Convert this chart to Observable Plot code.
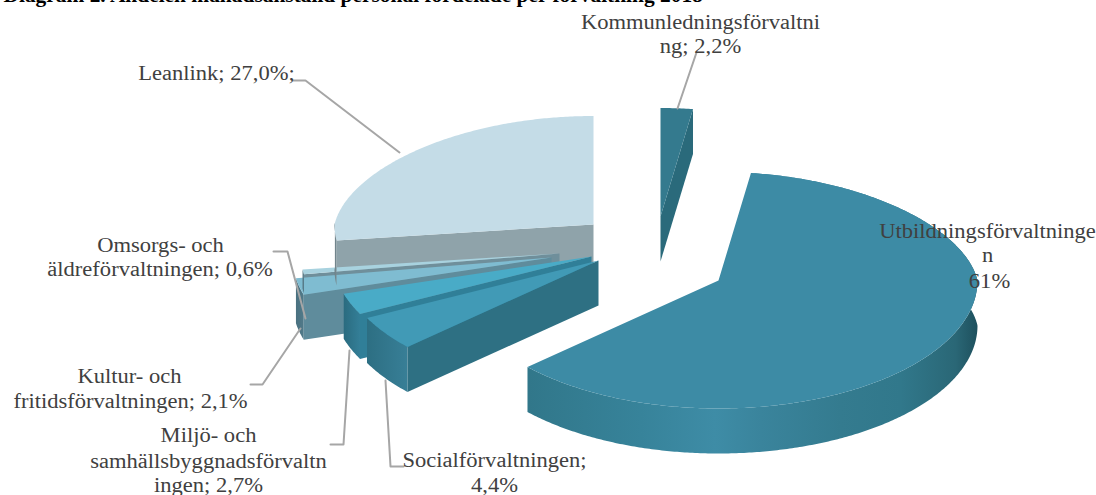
<!DOCTYPE html>
<html><head><meta charset="utf-8">
<script src="https://cdn.jsdelivr.net/npm/d3@7"></script>
<script src="https://cdn.jsdelivr.net/npm/@observablehq/plot@0.6"></script>
<style>html,body{margin:0;padding:0;background:#fff}svg{display:block}</style>
</head><body><div id="chart"></div>
<script>
// Data
const departments = ["Kommunledningsförvaltningen","Utbildningsförvaltningen","Socialförvaltningen","Miljö- och samhällsbyggnadsförvaltningen","Kultur- och fritidsförvaltningen","Omsorgs- och äldreförvaltningen","Leanlink"];
const shares = [2.2, 61, 4.4, 2.7, 2.1, 0.6, 27];
const titleText = "Diagram 2. Andelen månadsanställd personal fördelade per förvaltning 2018";

// Layout of the exploded 3D pie (pie-plane to picture)
const radiusX = 259, radiusBack = 108.5, radiusFront = 128, backShrink = 0.1, depth = 45;
const apexes = [[660,216],[718,280],[598,260],[591,256],[551,257],[559,253],[593,224]];
const tops = ["#347a8e","#3d8ba5","#419ab6","#49abc7","#7fbcd1","#a8d2df","#c4dce7"];
const cuts = ["#2a6a7b","#2f7286","#2e7083","#307f98","#5f8c9c","#6f8f9b","#8fa3aa"];
const cutSide = ["end",null,"start","start","start","start","start"];
const walls = [
  null,
  [[528,"#31778a"],[640,"#37839a"],[715,"#3e8ca6"],[760,"#3a849c"],[840,"#347b8f"],[900,"#31788b"],[955,"#2a6776"],[978,"#1d4f5c"]],
  [[367,"#2d6f83"],[408,"#387f97"]],
  [[343,"#2a6b7f"],[360,"#347f98"]],
  [[295,"#49707f"],[304,"#527b8b"]],
  [[300,"#4f707d"],[306,"#5a7f8d"]],
  [[333,"#64787f"],[337,"#7f9299"]]
];
// Labels: text, centre x, centre y of each line
const labels = [
  ["Kommunledningsförvaltni",700,22],["ng; 2,2%",700,46],
  ["Leanlink; 27,0%;",216,73],
  ["Utbildningsförvaltninge",987,231],["n",987,255],["61%",989,281],
  ["Omsorgs- och",160,245],["äldreförvaltningen; 0,6%",159.5,269],
  ["Kultur- och",129,376],["fritidsförvaltningen; 2,1%",130,401],
  ["Miljö- och",208,435],["samhällsbyggnadsförvaltn",208,461],["ingen; 2,7%",208,485],
  ["Socialförvaltningen;",494,460],["4,4%",494,485]
];
const leaders = [
  [[696,52],[677,108]],
  [[293,80],[305,80],[399,152]],
  [[273,251],[287,251],[305,318]],
  [[250,384],[262,384],[300,328]],
  [[330,444],[343,444],[349,350]],
  [[403,466],[390,466],[385,380]]
];

const arcs = d3.pie().sort(null).value(d => d)(shares);
const project = (apex, t) => {
  const c = Math.cos(t), s = Math.sin(t);
  return {x: apex[0] + radiusX * s / (1 + backShrink * Math.max(c, 0)), y: apex[1] - (c > 0 ? radiusBack : radiusFront) * c};
};
const arcPts = (apex, a, b) => {
  const n = Math.max(2, Math.ceil(Math.abs(b - a) / 0.01)), out = [];
  for (let i = 0; i <= n; i++) out.push(project(apex, a + (b - a) * i / n));
  return out;
};
const drop = (p, h = depth) => ({x: p.x, y: p.y + h});
const poly = (pts, fill) => Plot.line(pts, {x: "x", y: "y", fill, stroke: "none"});

const defs = () => {
  const ns = "http://www.w3.org/2000/svg";
  const el = document.createElementNS(ns, "defs");
  walls.forEach((stops, i) => {
    if (!stops) return;
    const g = document.createElementNS(ns, "linearGradient");
    g.setAttribute("id", "wall" + i);
    g.setAttribute("gradientUnits", "userSpaceOnUse");
    const x0 = stops[0][0], x1 = stops[stops.length - 1][0];
    g.setAttribute("x1", x0); g.setAttribute("x2", x1);
    g.setAttribute("y1", 0); g.setAttribute("y2", 0);
    stops.forEach(([x, col]) => {
      const s = document.createElementNS(ns, "stop");
      s.setAttribute("offset", (x - x0) / (x1 - x0));
      s.setAttribute("stop-color", col);
      g.appendChild(s);
    });
    el.appendChild(g);
  });
  return el;
};

const wallMark = (i, a, b, h = depth) => {
  const top = arcPts(apexes[i], a, b);
  return poly([...top, ...top.slice().reverse().map(p => drop(p, h))], `url(#wall${i})`);
};
const marks = [defs];
[6,5,4,3,2,1,0].forEach(i => {
  const apex = apexes[i], {startAngle: a, endAngle: b} = arcs[i];
  const apexPt = {x: apex[0], y: apex[1]};
  if (walls[i] && i !== 6 && i !== 5) marks.push(wallMark(i, a, b));
  if (cutSide[i]) {
    const p = project(apex, cutSide[i] === "start" ? a : b);
    marks.push(poly([apexPt, p, drop(p), drop(apexPt)], cuts[i]));
  }
  marks.push(poly([apexPt, ...arcPts(apex, a, b)], tops[i]));
  if (i === 4) { // the thin end walls of the two slices behind show over this one
    marks.push(wallMark(5, arcs[5].startAngle, arcs[5].endAngle, 19));
    marks.push(wallMark(6, arcs[6].startAngle, arcs[6].startAngle + 0.14));
  }
});
leaders.forEach(l => marks.push(Plot.line(l.map(([x, y]) => ({x, y})), {x: "x", y: "y", stroke: "#a6a6a6", strokeWidth: 2})));
marks.push(Plot.text(labels, {x: d => d[1], y: d => d[2], text: d => d[0], fill: "#404040", fontSize: 20.5, textAnchor: "middle", lineAnchor: "middle", className: "lab"}));
marks.push(Plot.text([titleText], {x: [3], y: [-5], text: d => d, fill: "#000", fontSize: 20, fontWeight: "bold", textAnchor: "start", lineAnchor: "middle", className: "ttl"}));

const chart = Plot.plot({
  width: 1096, height: 495, margin: 0,
  x: {domain: [0, 1096], range: [0, 1096], axis: null},
  y: {domain: [0, 495], range: [0, 495], axis: null, clamp: false},
  style: {fontFamily: "'Liberation Serif', serif", background: "#fff"},
  marks
});
document.getElementById("chart").appendChild(chart);
// The reference face is wider than Liberation Serif: stretch each line to the same proportion
const stretch = (sel, f) => chart.querySelectorAll(sel + " text").forEach(t => {
  t.setAttribute("textLength", t.getComputedTextLength() * f);
  t.setAttribute("lengthAdjust", "spacingAndGlyphs");
});
stretch(".lab", 1.1);
stretch(".ttl", 1.07);
</script></body></html>
